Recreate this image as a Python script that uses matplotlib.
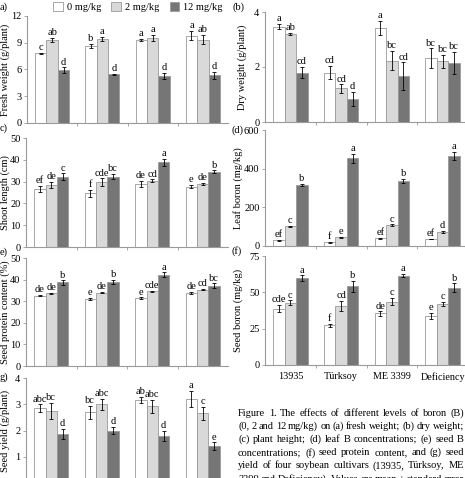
import matplotlib.pyplot as plt
import numpy as np
from matplotlib.patches import Patch

plt.rcParams["font.family"] = ["Liberation Serif", "DejaVu Serif"]

W, H = 465, 478

cultivars = ["13935", "Türksoy", "ME 3399", "Deficiency"]
doses = ["0 mg/kg", "2 mg/kg", "12 mg/kg"]

# rows = dose (0, 2, 12 mg/kg), columns = cultivar
fresh_mean = [[7.8, 8.65, 9.35, 9.8], [9.3, 9.4, 9.5, 9.35], [5.95, 5.45, 5.25, 5.35]]
fresh_err = [[0.1, 0.25, 0.1, 0.5], [0.25, 0.25, 0.35, 0.5], [0.3, 0.05, 0.35, 0.4]]
fresh_sig = [["c", "b", "a", "a"], ["ab", "a", "a", "ab"], ["d", "d", "d", "d"]]

dry_mean = [[3.47, 1.8, 3.42, 2.33], [3.2, 1.22, 2.23, 2.2], [1.8, 0.85, 1.67, 2.14]]
dry_err = [[0.1, 0.25, 0.25, 0.35], [0.03, 0.15, 0.35, 0.25], [0.2, 0.25, 0.5, 0.4]]
dry_sig = [["a", "cd", "a", "bc"], ["ab", "cd", "bc", "bc"], ["cd", "d", "cd", "bc"]]

shoot_mean = [[26.6, 24.6, 28.8, 27.7], [28.5, 29.7, 30.5, 28.8], [32.3, 32.3, 38.8, 34.6]]
shoot_err = [[1.5, 1.5, 1.5, 0.8], [1.5, 1.8, 0.5, 0.5], [1.5, 1.3, 1.5, 0.5]]
shoot_sig = [["ef", "f", "de", "e"], ["de", "cde", "cd", "de"], ["c", "bc", "a", "b"]]

leafb_mean = [[30, 19, 39, 36], [102, 44, 107, 73], [317, 453, 338, 467]]
leafb_err = [[2, 2, 2, 2], [4, 3, 5, 4], [5, 25, 10, 20]]
leafb_sig = [["ef", "f", "ef", "ef"], ["c", "e", "c", "d"], ["b", "a", "b", "a"]]

protein_mean = [[32.6, 31.1, 31.5, 33.9], [33.6, 33.9, 34.6, 35.4], [38.7, 38.9, 42.3, 37.2]]
protein_err = [[0.4, 0.4, 0.3, 0.5], [0.3, 0.3, 0.3, 0.3], [1.0, 1.0, 1.0, 1.0]]
protein_sig = [["de", "e", "e", "de"], ["de", "de", "cde", "cd"], ["b", "b", "a", "bc"]]

seedb_mean = [[38.8, 27.3, 35.5, 33.8], [42.9, 40.6, 43.6, 42.0], [59.6, 54.1, 61.5, 53.2]]
seedb_err = [[2.5, 1.0, 1.5, 2.0], [1.5, 3.5, 2.5, 1.5], [2.0, 4.0, 1.0, 3.0]]
seedb_sig = [["cde", "f", "de", "e"], ["c", "cd", "c", "c"], ["a", "b", "a", "b"]]

yield_mean = [[2.85, 2.7, 3.15, 3.2], [2.75, 3.0, 2.92, 2.65], [1.86, 2.0, 1.8, 1.4]]
yield_err = [[0.15, 0.25, 0.12, 0.3], [0.3, 0.2, 0.25, 0.25], [0.2, 0.15, 0.2, 0.15]]
yield_sig = [["abc", "bc", "ab", "a"], ["bc", "abc", "abc", "c"], ["d", "d", "d", "e"]]

caption = [
    "Figure 1. The effects of different levels of boron (B)",
    "(0, 2 and 12 mg/kg) on (a) fresh weight; (b) dry weight;",
    "(c) plant height; (d) leaf B concentrations; (e) seed B",
    "concentrations; (f) seed protein content, and (g) seed",
    "yield of four soybean cultivars (13935, Türksoy, ME",
    "3399 and Deficiency). Values are mean ± standard error",
]

bar_colors = ["white", "#d9d9d9", "#767676"]
edge = "#9a9a9a"


def rect(x0, x1, ytop, ybot):
    return [x0 / W, 1 - ybot / H, (x1 - x0) / W, (ybot - ytop) / H]


# panel: (tag, tag pos, axes px box, ylabel, ylabel x, yticks, data)
panels = [
    ("a)", (0, 7), (27, 228, 16, 123), "Fresh weight (g/plant)", -0.085,
     [0, 3, 6, 9, 12], fresh_mean, fresh_err, fresh_sig),
    ("(b)", (232, 7), (265, 468, 12, 122), "Dry weight (g/plant)", -0.09,
     [0, 2, 4], dry_mean, dry_err, dry_sig),
    ("c)", (0, 128), (26, 228, 138, 247), "Shoot length (cm)", -0.08,
     [0, 10, 20, 30, 40, 50], shoot_mean, shoot_err, shoot_sig),
    ("(d)", (231, 130), (265, 468, 130, 246), "Leaf boron (mg/kg)", -0.108,
     [0, 200, 400, 600], leafb_mean, leafb_err, leafb_sig),
    ("e)", (0, 252), (26, 228, 258, 366), "Seed protein content (%)", -0.08,
     [0, 10, 20, 30, 40, 50], protein_mean, protein_err, protein_sig),
    ("(f)", (231, 251), (265, 468, 256, 365), "Seed boron (mg/kg)", -0.108,
     [0, 25, 50, 75], seedb_mean, seedb_err, seedb_sig),
    ("g)", (0, 377), (26, 228, 378, 483), "Seed yield (g/plant)", -0.08,
     [0, 1, 2, 3, 4], yield_mean, yield_err, yield_sig),
]

fig = plt.figure(figsize=(W / 100, H / 100), dpi=100)

x = np.arange(len(cultivars))
bw = 0.227

for tag, tpos, box, ylabel, ylx, yticks, mean, err, sig in panels:
    ax = fig.add_axes(rect(*box))
    for i in range(3):
        xs = x + (i - 1) * bw
        ax.bar(xs, mean[i], width=bw, color=bar_colors[i], edgecolor=edge, linewidth=0.6)
        ax.errorbar(xs, mean[i], yerr=err[i], fmt="none", ecolor="black",
                    elinewidth=0.6, capsize=1.3, capthick=0.6)
        for xx, m, e, s in zip(xs, mean[i], err[i], sig[i]):
            ax.annotate(s, (xx, m + e), xytext=(0, 0.5), textcoords="offset points",
                        ha="center", va="bottom", fontsize=7.5)
    ax.set_xlim(-0.5, 3.5)
    ax.set_ylim(yticks[0], yticks[-1])
    ax.set_yticks(yticks)
    ax.set_xticks([0.5, 1.5, 2.5])
    ax.set_xticklabels([])
    ax.tick_params(axis="x", length=2, width=0.6, color=edge)
    ax.tick_params(axis="y", length=2.5, width=0.6, color=edge, labelsize=7.5, pad=1.5)
    for s in ["top", "right"]:
        ax.spines[s].set_visible(False)
    for s in ["left", "bottom"]:
        ax.spines[s].set_color(edge)
        ax.spines[s].set_linewidth(0.8)
    ax.set_ylabel(ylabel, fontsize=7.5)
    ax.yaxis.set_label_coords(ylx, 0.5)
    fig.text(tpos[0] / W, 1 - tpos[1] / H, tag, fontsize=7.5, va="center", ha="left")
    if tag == "(f)":
        ax.set_xticks(x, minor=True)
        ax.set_xticklabels(cultivars, minor=True, fontsize=7.3)
        ax.tick_params(axis="x", which="minor", length=0, pad=5)

handles = [Patch(facecolor=c, edgecolor=edge, linewidth=0.6) for c in bar_colors]
fig.legend(handles, doses, loc="center", bbox_to_anchor=(138 / W, 1 - 7 / H), ncol=3,
           frameon=False, fontsize=7.5, handlelength=0.9, handleheight=0.9,
           handletextpad=0.4, columnspacing=1.0, borderpad=0)

# justified caption lines
renderer = fig.canvas.get_renderer()
cap_x0, cap_x1 = 238, 464
for k, line in enumerate(caption):
    y = 1 - (413 + 13.2 * k) / H
    words = line.split(" ")
    texts = [fig.text(0, y, w, fontsize=7.45, va="center", ha="left") for w in words]
    widths = [t.get_window_extent(renderer).width for t in texts]
    gap = (cap_x1 - cap_x0 - sum(widths)) / (len(words) - 1)
    pos = cap_x0
    for t, w in zip(texts, widths):
        t.set_x(pos / W)
        pos += w + gap

fig.savefig("out.png", dpi=100)
